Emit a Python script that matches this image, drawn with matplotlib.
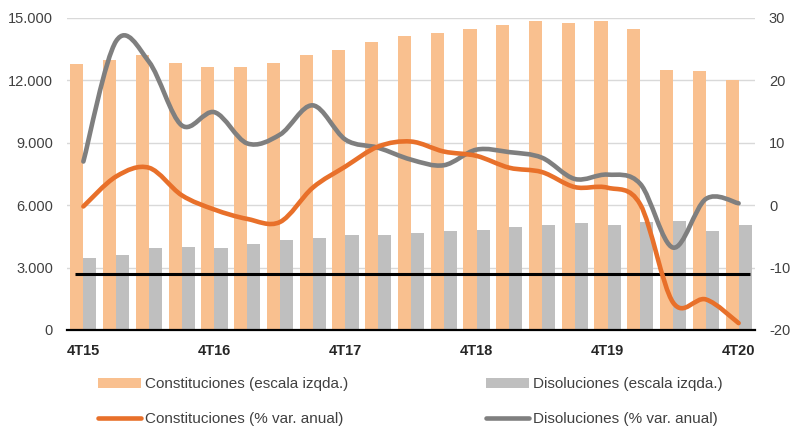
import matplotlib
matplotlib.use('Agg')
import matplotlib.pyplot as plt
import numpy as np
from matplotlib.path import Path
from matplotlib.patches import PathPatch
from matplotlib.lines import Line2D
from matplotlib.patches import Patch
from matplotlib.ticker import FuncFormatter

plt.rcParams['font.family'] = ['Liberation Sans', 'DejaVu Sans']

# trimestres 4T15 .. 4T20
trimestres = ['4T15', '1T16', '2T16', '3T16', '4T16', '1T17', '2T17', '3T17', '4T17',
              '1T18', '2T18', '3T18', '4T18', '1T19', '2T19', '3T19', '4T19',
              '1T20', '2T20', '3T20', '4T20']

# numero de sociedades (escala izqda.)
constituciones = [12800, 13000, 13200, 12850, 12650, 12650, 12850, 13200, 13450, 13850, 14150,
                  14300, 14450, 14650, 14850, 14750, 14850, 14450, 12500, 12450, 12000]
disoluciones = [3480, 3610, 3930, 3990, 3930, 4120, 4310, 4440, 4570, 4570, 4680,
                4760, 4820, 4940, 5060, 5130, 5060, 5190, 5250, 4760, 5060]

# % var. anual (escala dcha.)
var_const = [-0.2, 4.6, 6.0, 1.6, -0.7, -2.2, -2.7, 2.8, 6.2, 9.4, 10.2,
             8.6, 7.9, 6.0, 5.3, 2.9, 2.8, 0.1, -15.6, -15.1, -18.9]
var_dis = [7.0, 26.3, 23.0, 12.8, 14.9, 9.9, 11.3, 16.0, 10.5, 9.2, 7.3,
           6.4, 8.9, 8.5, 7.6, 4.2, 4.9, 3.4, -6.8, 1.0, 0.3]

linea_ref = 2700

c_const_bar = '#F9C08F'
c_dis_bar = '#BFBFBF'
c_const_line = '#E8702A'
c_dis_line = '#7F7F7F'
c_text = '#404040'


def curva_suave(xs, ys):
    # suavizado tipo Excel (Catmull-Rom con curvas de Bezier)
    pts = list(zip(xs, ys))
    verts = [pts[0]]
    codes = [Path.MOVETO]
    n = len(pts)
    for i in range(n - 1):
        p0 = pts[i - 1] if i > 0 else pts[i]
        p1 = pts[i]
        p2 = pts[i + 1]
        p3 = pts[i + 2] if i + 2 < n else pts[i + 1]
        c1 = (p1[0] + (p2[0] - p0[0]) / 6, p1[1] + (p2[1] - p0[1]) / 6)
        c2 = (p2[0] - (p3[0] - p1[0]) / 6, p2[1] - (p3[1] - p1[1]) / 6)
        verts += [c1, c2, p2]
        codes += [Path.CURVE4] * 3
    return Path(verts, codes)


x = np.arange(len(trimestres))
w = 0.40

fig = plt.figure(figsize=(7.9, 4.28), dpi=100)
ax = fig.add_axes([0.0848, 0.229, 0.8709, 0.729])

ax.bar(x - w / 2, constituciones, width=w, color=c_const_bar, zorder=2)
ax.bar(x + w / 2, disoluciones, width=w, color=c_dis_bar, zorder=2)
ax.hlines(linea_ref, -0.25, 20.35, color='black', linewidth=2.2, zorder=3)

ax.set_ylim(0, 15000)
ax.set_yticks(range(0, 15001, 3000))
ax.yaxis.set_major_formatter(FuncFormatter(lambda v, p: format(int(v), ',').replace(',', '.')))
ax.set_xlim(-0.5, len(x) - 0.5)
ax.set_xticks(x[::4])
ax.set_xticklabels(trimestres[::4], fontweight='bold', fontsize=10.5, color='#262626')
ax.grid(axis='y', color='#D9D9D9', linewidth=1, zorder=0)
ax.set_axisbelow(True)
for s in ['top', 'right', 'left']:
    ax.spines[s].set_visible(False)
ax.spines['bottom'].set_color('black')
ax.spines['bottom'].set_linewidth(1.6)
ax.tick_params(axis='y', length=0, pad=10, labelsize=10.5, labelcolor=c_text)
ax.tick_params(axis='x', length=0, pad=10)

ax2 = ax.twinx()
ax2.set_ylim(-20, 30)
ax2.set_yticks(range(-20, 31, 10))
ax2.yaxis.set_major_formatter(FuncFormatter(lambda v, p: str(int(v))))
ax2.tick_params(axis='y', length=0, pad=10, labelsize=10.5, labelcolor=c_text)
for s in ['top', 'right', 'left', 'bottom']:
    ax2.spines[s].set_visible(False)

ax2.add_patch(PathPatch(curva_suave(x, var_dis), facecolor='none', edgecolor=c_dis_line,
                        linewidth=3.3, capstyle='round', joinstyle='round', zorder=4))
ax2.add_patch(PathPatch(curva_suave(x, var_const), facecolor='none', edgecolor=c_const_line,
                        linewidth=3.3, capstyle='round', joinstyle='round', zorder=5))

handles = [
    Patch(facecolor=c_const_bar, edgecolor='none'),
    Line2D([0], [0], color=c_const_line, linewidth=3.3, solid_capstyle='round'),
    Patch(facecolor=c_dis_bar, edgecolor='none'),
    Line2D([0], [0], color=c_dis_line, linewidth=3.3, solid_capstyle='round'),
]
labels = ['Constituciones (escala izqda.)', 'Constituciones (% var. anual)',
          'Disoluciones (escala izqda.)', 'Disoluciones (% var. anual)']
fig.legend(handles, labels, ncol=2, loc='upper left', bbox_to_anchor=(0.124, 0.118),
           frameon=False, fontsize=11, handlelength=2.8, handleheight=0.7,
           handletextpad=0.3, columnspacing=9.0, labelspacing=1.35,
           labelcolor=c_text, borderaxespad=0, borderpad=0)

fig.savefig('out.png', dpi=100)
